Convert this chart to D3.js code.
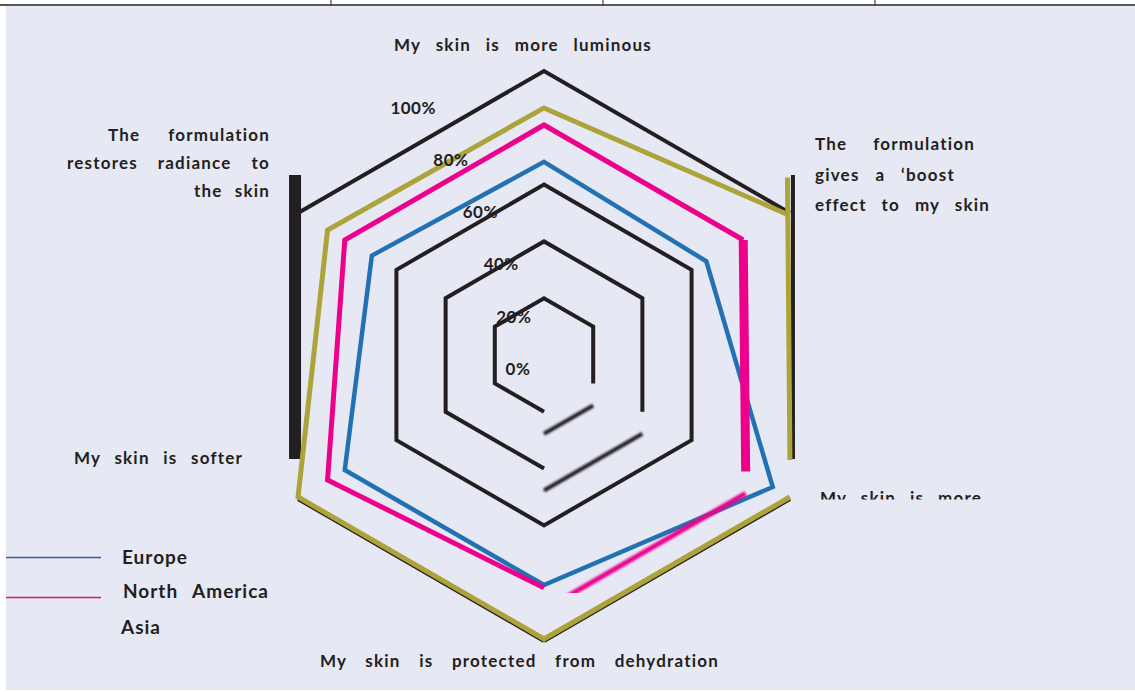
<!DOCTYPE html>
<html>
<head>
<meta charset="utf-8">
<script src="https://cdn.jsdelivr.net/npm/d3@7"></script>
<style>
  html, body { margin: 0; padding: 0; background: #fff; }
  svg { display: block; font-family: Lato, "Open Sans", sans-serif; font-weight: 700; }
</style>
</head>
<body>
<svg id="graphArea" width="1135" height="692"></svg>
<script>

/* data */
// axes, clockwise from the top ("\n" = line break in the label)
const axes = [
  "My skin is more luminous",
  "The formulation\ngives a ‘boost\neffect to my skin",
  "My skin is more",
  "My skin is protected from dehydration",
  "My skin is softer",
  "The formulation\nrestores radiance to\nthe skin"
];
const seriesNames = ["Europe", "North America", "Asia"];
const europe       = [68, 66, 93, 81, 81, 70];
const northAmerica = [81, 81, 82, 82, 88, 81];
const asia         = [87, 99, 100, 100, 100, 88];
const gridLevels = [20, 40, 60, 100];
const tickValues = [0, 20, 40, 60, 80, 100];
const tickLabels = ["0%", "20%", "40%", "60%", "80%", "100%"];

/* style */
const ink = "#231f20";
const colors = { "Europe": "#2271b2", "North America": "#ec008c", "Asia": "#aca33a" };
const widths = { "Europe": 4.5, "North America": 5, "Asia": 5 };

// the source rendering drew some edges shifted / thickened / blurred
const quirks = {
  "grid-20":  { 2: { dy: 22, blur: true } },
  "grid-40":  { 2: { dy: 22, blur: true } },
  "grid-100": { 1: { dx: 3, dy: -38 }, 2: { dy: 2 }, 3: { dy: 2 }, 4: { dx: -3, dy: -38, width: 12 } },
  "North America": { 1: { width: 9 }, 2: { dy: 22, blur: true, clipBottom: 593 } },
  "Asia": { 1: { dy: -37 } }
};

// axis label boxes: x, first baseline, line height, anchor, width of each line
const axisLabelLayout = [
  { x: 394, y: 51,    lh: 0,    anchor: "start", w: [258] },
  { x: 815, y: 150,   lh: 30.5, anchor: "start", w: [160, 140, 175] },
  { x: 820, y: 503.5, lh: 0,    anchor: "start", w: [162], clipBottom: 499.5 },
  { x: 320, y: 667,   lh: 0,    anchor: "start", w: [399] },
  { x: 74,  y: 464,   lh: 0,    anchor: "start", w: [169] },
  { x: 270, y: 141,   lh: 28,   anchor: "end",   w: [162, 203, 76] }
];


/* radar chart */
class Radar {

  constructor(svgId) {
    this.svg = d3.select(`#${svgId}`);
    this.cx = 544;
    this.cy = 355;
    this.r = d3.scaleLinear().domain([0, 100]).range([0, 284]);
    this.angle = d3.scaleLinear().domain([0, axes.length]).range([0, 2 * Math.PI]);
    this.line = d3.line();

    let defs = this.svg.append("defs");
    defs.append("filter").attr("id", "soft")
      .attr("x", "-10%").attr("y", "-10%").attr("width", "120%").attr("height", "120%")
      .append("feGaussianBlur").attr("stdDeviation", 0.9);
    this.defs = defs;
    this.clipCount = 0;
  }

  point(i, v) {
    let a = this.angle(i), rr = this.r(v);
    return [this.cx + rr * Math.sin(a), this.cy - rr * Math.cos(a)];
  }

  clipBelow(y) {
    let id = "clip" + (this.clipCount++);
    this.defs.append("clipPath").attr("id", id)
      .append("rect").attr("x", 0).attr("y", 0).attr("width", 1135).attr("height", y);
    return `url(#${id})`;
  }

  /* draw a closed ring; quirky edges drawn on their own */
  ring(values, key, color, width) {
    let q = quirks[key] || {};
    let n = values.length;
    let pts = values.map((v, i) => this.point(i, v));
    let g = this.svg.append("g").attr("class", key);
    let bad = d3.range(n).filter(i => q[i]);

    let stroke = sel => sel.attr("fill", "none").attr("stroke", color)
      .attr("stroke-linejoin", "miter").attr("stroke-miterlimit", 10);

    if (bad.length === 0) {
      g.append("path").attr("d", this.line(pts) + "Z").call(stroke).attr("stroke-width", width);
      return;
    }

    // runs of normal edges
    let start = (bad[0] + 1) % n;
    let run = [];
    let flush = () => {
      if (run.length > 1) g.append("path").attr("d", this.line(run)).call(stroke).attr("stroke-width", width);
      run = [];
    };
    for (let k = 0; k < n; k++) {
      let s = (start + k) % n;
      if (q[s]) { flush(); continue; }
      if (run.length === 0) run.push(pts[s]);
      run.push(pts[(s + 1) % n]);
    }
    flush();

    // quirky edges
    bad.forEach(s => {
      let o = q[s];
      let dx = o.dx || 0, dy = o.dy || 0;
      let seg = [pts[s], pts[(s + 1) % n]].map(p => [p[0] + dx, p[1] + dy]);
      let p = g.append("path").attr("d", this.line(seg)).call(stroke)
        .attr("stroke-width", o.width || width);
      if (o.blur) p.attr("filter", "url(#soft)");
      if (o.clipBottom) p.attr("clip-path", this.clipBelow(o.clipBottom));
    });
  }

  drawGrid() {
    gridLevels.forEach(lv => {
      this.ring(axes.map(() => lv), "grid-" + lv, ink, 4);
    });
  }

  drawSeries() {
    let all = { "Europe": europe, "North America": northAmerica, "Asia": asia };
    seriesNames.forEach(name => {
      this.ring(all[name], name, colors[name], widths[name]);
    });
  }

  drawTicks() {
    // labels sit on a curve running up-left from the centre
    this.svg.append("g").attr("class", "ticks")
      .selectAll("text").data(tickValues).enter()
      .append("text")
      .attr("x", v => this.cx - 26 - 0.0013 * this.r(v) * this.r(v))
      .attr("y", v => this.cy + 20 - 0.92 * this.r(v))
      .attr("text-anchor", "middle")
      .attr("font-size", "17px")
      .style("letter-spacing", "0.5px")
      .attr("fill", ink)
      .text((v, i) => tickLabels[i]);
  }

  drawAxisLabels() {
    let g = this.svg.append("g").attr("class", "axis-labels");
    axes.forEach((name, i) => {
      let lay = axisLabelLayout[i];
      let lines = name.split("\n");
      let t = g.append("g");
      if (lay.clipBottom) t.attr("clip-path", this.clipBelow(lay.clipBottom));
      lines.forEach((ln, j) => {
        let txt = t.append("text")
          .attr("x", lay.x).attr("y", lay.y + j * lay.lh)
          .attr("text-anchor", lay.anchor)
          .attr("font-size", "17px")
          .style("letter-spacing", "1.2px")
          .attr("fill", ink)
          .text(ln);
        justify(txt, lay.w[j]);
      });
    });
  }

  drawLegend() {
    let g = this.svg.append("g").attr("class", "legend");
    let lineY = { "Europe": 557.5, "North America": 597.5 };
    let lineColor = { "Europe": "#3b58a6", "North America": "#e0117f" };
    let textPos = { "Europe": [122, 564, 0], "North America": [123, 598, 146], "Asia": [121, 634, 0] };
    seriesNames.forEach(name => {
      if (lineY[name]) {
        g.append("line")
          .attr("x1", 6).attr("x2", 101)
          .attr("y1", lineY[name]).attr("y2", lineY[name])
          .attr("stroke", lineColor[name]).attr("stroke-width", 1.5);
      }
      let [x, y, w] = textPos[name];
      let txt = g.append("text")
        .attr("x", x).attr("y", y)
        .attr("font-size", "19px")
        .style("letter-spacing", "1px")
        .attr("fill", ink)
        .text(name);
      if (w) justify(txt, w);
    });
  }
}

// spread the words of a line to a given width
function justify(txt, w) {
  let s = txt.text();
  let gaps = (s.match(/ /g) || []).length;
  if (!gaps || !w) return;
  let len = txt.node().getComputedTextLength();
  txt.style("word-spacing", Math.max(0, (w - len) / gaps) + "px");
}


/* page frame */
let svg = d3.select("#graphArea");
svg.append("rect").attr("x", 0).attr("y", 0).attr("width", 1135).attr("height", 692).attr("fill", "#fff");
svg.append("rect").attr("x", 6).attr("y", 6).attr("width", 1129).attr("height", 684).attr("fill", "#e6e8f4");
svg.append("line").attr("x1", 0).attr("x2", 1135).attr("y1", 5).attr("y2", 5)
  .attr("stroke", ink).attr("stroke-width", 1.5);
[331, 603, 875].forEach(x => {
  svg.append("line").attr("x1", x).attr("x2", x).attr("y1", 0).attr("y2", 5)
    .attr("stroke", ink).attr("stroke-width", 1);
});

let radar = new Radar("graphArea");
radar.drawGrid();
radar.drawSeries();
radar.drawTicks();
radar.drawAxisLabels();
radar.drawLegend();

</script>
</body>
</html>
